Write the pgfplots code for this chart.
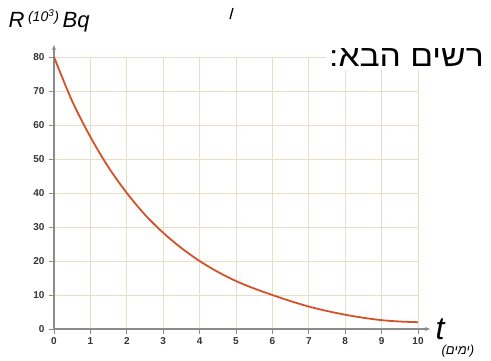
\documentclass[border=0pt]{standalone}
\usepackage{fontspec}
\usepackage{pgfplots}
\pgfplotsset{compat=1.18}
\usetikzlibrary{arrows.meta}
\setmainfont{Liberation Sans}
\newfontfamily\hebfont[Script=Hebrew]{Liberation Sans}
\newfontfamily\hebwide[Script=Hebrew, FakeStretch=1.12]{Liberation Sans}
\TeXXeTstate=1
\definecolor{gridc}{HTML}{E6DFC6}
\definecolor{axisgray}{HTML}{8C8C8C}
\definecolor{curvec}{HTML}{D4522A}
\definecolor{labc}{HTML}{333333}
\begin{document}
\begin{tikzpicture}
\useasboundingbox (0,0) rectangle (491pt,360pt);
\begin{axis}[
  at={(54pt,31pt)}, anchor=south west,
  scale only axis, width=364pt, height=272pt,
  xmin=0, xmax=10, ymin=0, ymax=80,
  xtick={0,...,10}, ytick={0,10,...,80},
  axis lines=left,
  axis line style={draw=axisgray, line width=1.6pt, -{Stealth[length=5pt,width=4pt]}, shorten >=-12pt},
  grid=major,
  major grid style={draw=gridc, line width=1pt},
  tick align=outside, major tick length=5pt,
  tick style={draw=axisgray, line width=1pt},
  /pgf/number format/assume math mode=true,
  ticklabel style={font=\bfseries\fontsize{10}{11}\selectfont, text=labc},
  yticklabel style={xshift=-1pt},
  clip=false,
]
\addplot[curvec, line width=1.8pt, smooth, no marks] coordinates {
  (0,80) (0.5,67) (1,56.5) (1.5,47.5) (2,40) (2.5,33.6) (3,28.3)
  (3.5,23.8) (4,20) (4.5,16.8) (5,14.1) (5.5,11.9) (6,10) (6.5,8.2)
  (7,6.6) (7.5,5.3) (8,4.2) (8.5,3.3) (9,2.6) (9.5,2.2) (10,2.0)
};
\end{axis}
\node[anchor=west, font=\itshape\fontsize{22}{22}\selectfont] at (5pt,339pt)
  {R\,\raisebox{6pt}{\fontsize{14}{14}\selectfont(10\textsuperscript{3})}\,Bq};
\draw[line width=1.3pt] (233pt,352pt) -- (230pt,341pt);
\node[anchor=west, fill=white, inner sep=3pt, font=\hebwide\fontsize{30}{30}\selectfont]
  at (326pt,302pt) {\beginR רשים הבא:\endR};
\node[font=\itshape\fontsize{32}{32}\selectfont] at (440pt,31pt) {t};
\node[anchor=west, font=\itshape\fontsize{13}{13}\selectfont] at (438pt,9pt)
  {(\hebfont\beginR ימים\endR\normalfont\itshape)};
\end{tikzpicture}
\end{document}
